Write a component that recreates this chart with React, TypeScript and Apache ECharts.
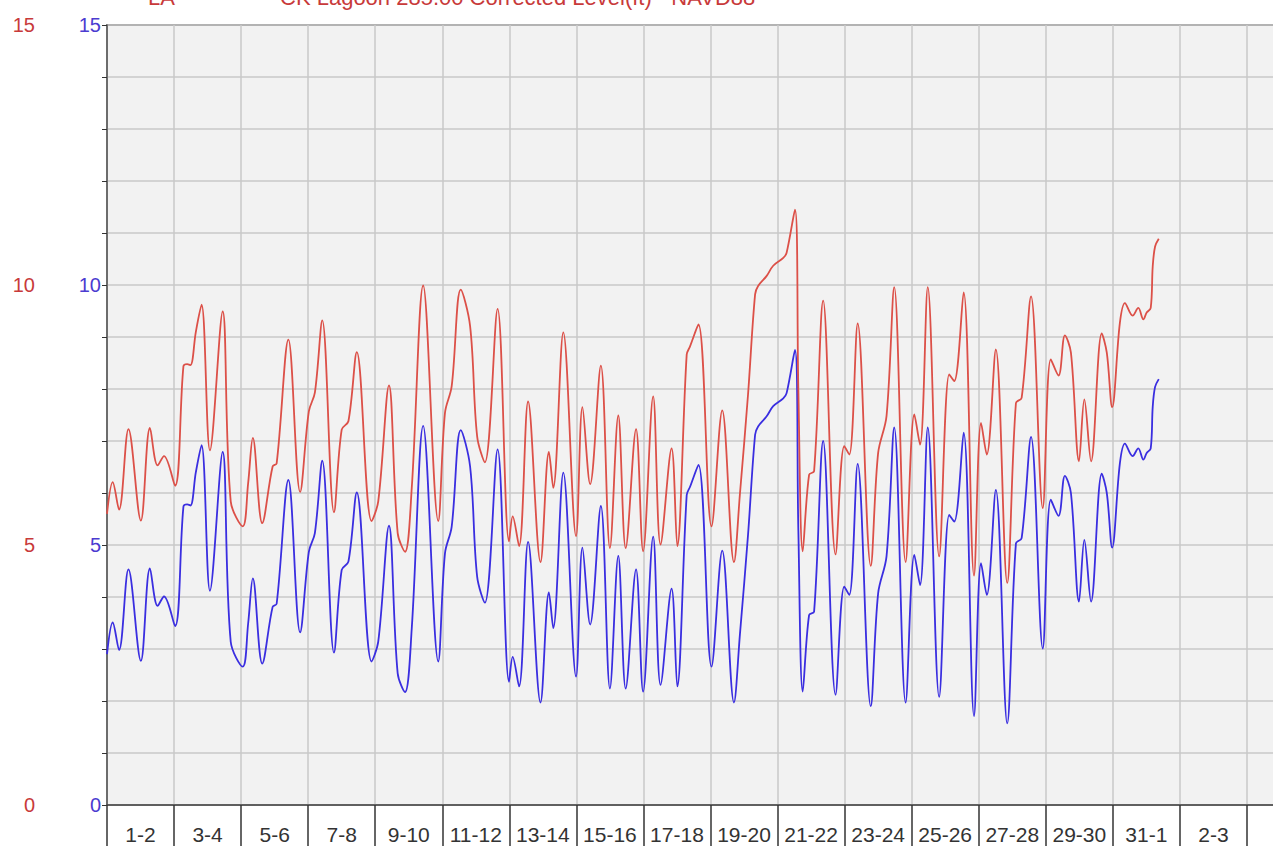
import React, { useEffect, useRef } from "react";
import * as echarts from "echarts";

// Time of each reading, in days since the start of day "1"
const dayOffsets: number[] = [
  0.0, 0.17, 0.36, 0.64, 1.01, 1.28, 1.51, 1.7, 2.03, 2.28, 2.39, 2.49, 2.65, 2.82, 3.07, 3.45, 3.69, 4.05, 4.21, 4.35,
  4.63, 4.94, 5.06, 5.41, 5.76, 6.02, 6.2, 6.42, 6.77, 7.0, 7.2, 7.45, 7.89, 8.09, 8.41, 8.67, 8.89, 9.09, 9.43, 9.88,
  10.08, 10.28, 10.55, 10.83, 11.04, 11.27, 11.65, 11.99, 12.1, 12.29, 12.56, 12.93, 13.18, 13.31, 13.61, 13.99, 14.18,
  14.41, 14.73, 15.0, 15.25, 15.47, 15.78, 15.99, 16.29, 16.51, 16.84, 17.01, 17.29, 17.39, 17.64, 18.03, 18.35, 18.7,
  18.88, 19.12, 19.33, 19.42, 19.67, 19.87, 20.17, 20.27, 20.52, 20.62, 20.75, 20.94, 21.09, 21.36, 21.73, 21.99, 22.14,
  22.39, 22.78, 23.0, 23.25, 23.48, 23.82, 24.08, 24.25, 24.48, 24.82, 25.12, 25.27, 25.55, 25.86, 26.07, 26.24, 26.51,
  26.85, 27.11, 27.28, 27.56, 27.91, 28.15, 28.38, 28.57, 28.75, 28.99, 29.15, 29.35, 29.67, 29.82, 29.98, 30.21, 30.36,
  30.59, 30.76, 30.91, 31.01, 31.13, 31.19, 31.26, 31.37,
];

// Blue series (raw level, ft)
const rawLevel: number[] = [
  2.9, 3.51, 2.98, 4.53, 2.77, 4.55, 3.83, 4.01, 3.44, 5.74, 5.78, 5.76, 6.4, 6.92, 4.12, 6.79, 3.14, 2.66, 3.49, 4.36,
  2.72, 3.81, 3.87, 6.25, 3.32, 4.87, 5.23, 6.62, 2.93, 4.52, 4.68, 6.01, 2.76, 3.14, 5.37, 2.53, 2.17, 3.4, 7.29, 2.76,
  4.84, 5.35, 7.21, 6.51, 4.39, 3.89, 6.84, 2.37, 2.85, 2.28, 5.06, 1.97, 4.09, 3.4, 6.39, 2.47, 4.95,
  3.47, 5.75, 2.24, 4.79, 2.24, 4.53, 2.18, 5.16, 2.31, 4.16, 2.28, 5.96, 6.12, 6.54, 2.66, 4.89, 1.97,
  3.3, 5.2, 7.12, 7.28, 7.47, 7.67, 7.82, 7.92, 8.75, 5.29, 2.18, 3.65, 3.72, 7.0, 2.12, 4.2, 4.04,
  6.56, 1.9, 4.07, 4.78, 7.26, 1.97, 4.81, 4.23, 7.26, 2.08, 5.58, 5.45, 7.16, 1.71, 4.65, 4.04, 6.06,
  1.57, 5.03, 5.13, 7.08, 3.01, 5.87, 5.56, 6.33, 6.0, 3.91, 5.1, 3.91, 6.37, 6.0, 4.95, 6.57, 6.95,
  6.71, 6.86, 6.64, 6.77, 6.86, 7.66, 8.04, 8.19,
];

// Red series (CK Lagoon 285.00 Corrected Level (ft) - NAVD88)
const correctedLevel: number[] = [
  5.6, 6.21, 5.68, 7.23, 5.47, 7.25, 6.53, 6.71, 6.14, 8.44, 8.48, 8.46, 9.1, 9.62, 6.82, 9.49, 5.84, 5.36, 6.19, 7.06,
  5.42, 6.51, 6.57, 8.95, 6.02, 7.57, 7.93, 9.32, 5.63, 7.22, 7.38, 8.71, 5.46, 5.84, 8.07, 5.23, 4.87, 6.1, 9.99, 5.46,
  7.54, 8.05, 9.91, 9.21, 7.09, 6.59, 9.54, 5.07, 5.55, 4.98, 7.76, 4.67, 6.79, 6.1, 9.09, 5.17, 7.65,
  6.17, 8.45, 4.94, 7.49, 4.94, 7.23, 4.88, 7.86, 5.01, 6.86, 4.98, 8.66, 8.82, 9.24, 5.36, 7.59, 4.67,
  6.0, 7.9, 9.82, 9.98, 10.17, 10.37, 10.52, 10.62, 11.45, 7.99, 4.88, 6.35, 6.42, 9.7, 4.82, 6.9, 6.74,
  9.26, 4.6, 6.77, 7.48, 9.96, 4.67, 7.51, 6.93, 9.96, 4.78, 8.28, 8.15, 9.86, 4.41, 7.35, 6.74, 8.76,
  4.27, 7.73, 7.83, 9.78, 5.71, 8.57, 8.26, 9.03, 8.7, 6.61, 7.8, 6.61, 9.07, 8.7, 7.65, 9.27, 9.65,
  9.41, 9.56, 9.34, 9.47, 9.56, 10.36, 10.74, 10.89,
];

const bandLabels: string[] = [
  "1-2", "3-4", "5-6", "7-8", "9-10", "11-12", "13-14", "15-16", "17-18",
  "19-20", "21-22", "23-24", "25-26", "27-28", "29-30", "31-1", "2-3", "",
];

const legendTexts: string[] = ["LA", "CK Lagoon 285.00 Corrected Level(ft) - NAVD88"];

const FONT = "'Liberation Sans', Arial, sans-serif";
const RED_TEXT = "#c83a3a";
const BLUE_TEXT = "#4b3bd0";
const RED_LINE = "#dc5048";
const BLUE_LINE = "#3a2ee0";

export default function App() {
  const ref = useRef<HTMLDivElement>(null);

  useEffect(() => {
    if (!ref.current) return;
    const chart = echarts.init(ref.current, undefined, { renderer: "svg" });
    const totalDays = bandLabels.length * 2;

    const yBase = {
      type: "value" as const,
      min: 0,
      max: 15,
      interval: 5,
      position: "left" as const,
    };

    chart.setOption({
      animation: false,
      backgroundColor: "#ffffff",
      grid: {
        left: 107,
        right: 0,
        top: 25,
        bottom: 41,
        show: true,
        backgroundColor: "#f2f2f2",
        borderColor: "#4a4a4a",
        borderWidth: 1.5,
      },
      graphic: [
        {
          type: "text",
          left: 148,
          top: -14,
          style: { text: legendTexts[0], fill: RED_TEXT, font: `22px ${FONT}` },
        },
        {
          type: "text",
          left: 280,
          top: -14,
          style: { text: legendTexts[1], fill: RED_TEXT, font: `22px ${FONT}` },
        },
      ],
      xAxis: [
        {
          type: "value",
          min: 0,
          max: totalDays,
          interval: 2,
          position: "bottom",
          axisLine: { show: false },
          axisTick: { show: false },
          axisLabel: { show: false },
          splitLine: { show: true, lineStyle: { color: "#c8c8c8", width: 1.5 } },
        },
        {
          type: "category",
          data: bandLabels,
          position: "bottom",
          boundaryGap: true,
          axisLine: { show: true, lineStyle: { color: "#444", width: 1.5 } },
          axisTick: { show: true, interval: 0, length: 45, lineStyle: { color: "#333", width: 1.5 } },
          axisLabel: { interval: 0, margin: 19, color: "#333", fontSize: 21, fontFamily: FONT },
          splitLine: { show: false },
        },
      ],
      yAxis: [
        {
          ...yBase,
          axisLine: { show: true, lineStyle: { color: "#555", width: 1.5 } },
          axisTick: { show: true, length: 5, lineStyle: { color: "#333" } },
          minorTick: { show: true, splitNumber: 5, length: 5, lineStyle: { color: "#333" } },
          axisLabel: { color: BLUE_TEXT, fontSize: 20, fontFamily: FONT, margin: 6 },
          splitLine: { show: true, lineStyle: { color: "#c8c8c8", width: 1.5 } },
          minorSplitLine: { show: true, lineStyle: { color: "#c8c8c8", width: 1.5 } },
        },
        {
          ...yBase,
          offset: 66,
          axisLine: { show: false },
          axisTick: { show: false },
          axisLabel: { color: RED_TEXT, fontSize: 20, fontFamily: FONT, margin: 6 },
          splitLine: { show: false },
        },
      ],
      series: [
        {
          name: "Raw Level",
          type: "line",
          xAxisIndex: 0,
          yAxisIndex: 0,
          data: dayOffsets.map((d, i) => [d, rawLevel[i]]),
          showSymbol: false,
          smooth: 0.35,
          lineStyle: { color: BLUE_LINE, width: 1.8 },
          itemStyle: { color: BLUE_LINE },
        },
        {
          name: legendTexts[1],
          type: "line",
          xAxisIndex: 0,
          yAxisIndex: 1,
          data: dayOffsets.map((d, i) => [d, correctedLevel[i]]),
          showSymbol: false,
          smooth: 0.35,
          lineStyle: { color: RED_LINE, width: 1.8 },
          itemStyle: { color: RED_LINE },
        },
      ],
    });

    return () => chart.dispose();
  }, []);

  return (
    <div
      ref={ref}
      style={{ position: "fixed", left: 0, top: 0, width: 1314, height: 846 }}
    />
  );
}
